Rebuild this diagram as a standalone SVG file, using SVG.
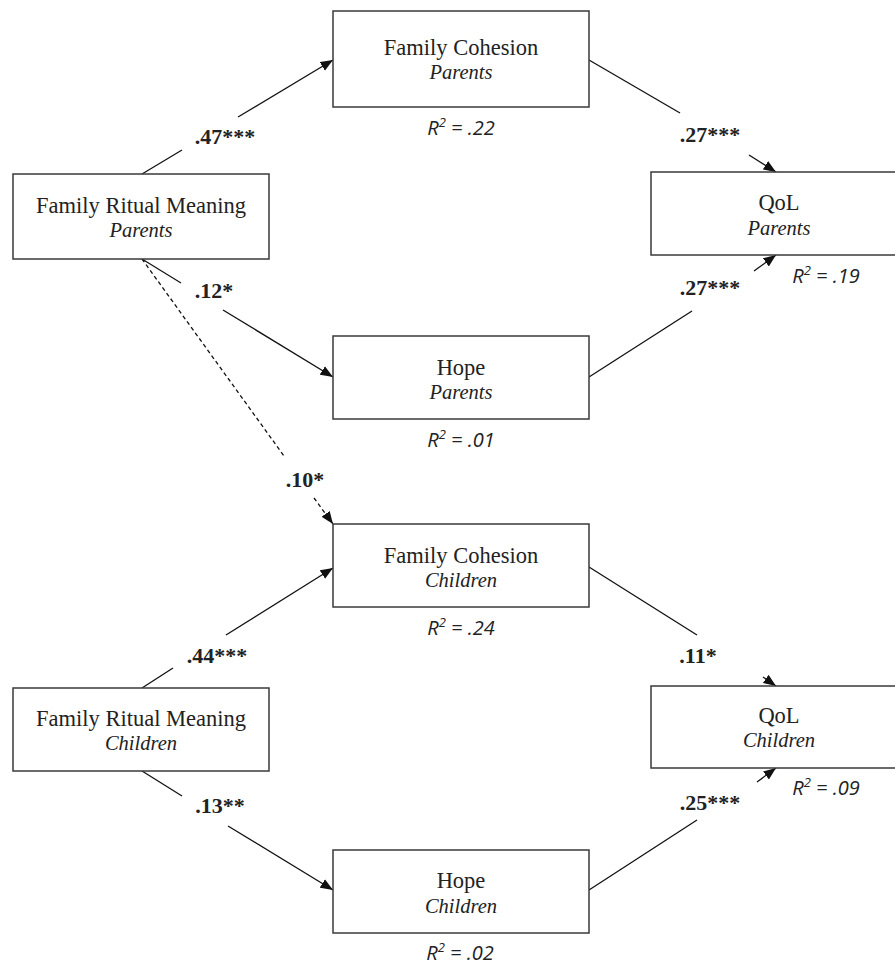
<svg xmlns="http://www.w3.org/2000/svg" width="895" height="965" viewBox="0 0 895 965">
<style>
.box{fill:#fff;stroke:#3a3a3a;stroke-width:1.5}
.t{font-family:"Liberation Serif","Times New Roman",serif;font-size:22.5px;fill:#222;text-anchor:middle}
.s{font-family:"Liberation Serif","Times New Roman",serif;font-size:20.5px;font-style:italic;fill:#222;text-anchor:middle}
.r{font-family:"Open Sans","Liberation Sans",sans-serif;font-size:20px;font-style:italic;fill:#222;text-anchor:middle}
.c{font-family:"Liberation Serif","Times New Roman",serif;font-size:22px;font-weight:bold;fill:#222;text-anchor:middle}
.ln{stroke:#111;stroke-width:1.3;fill:none}
.dash{stroke-dasharray:4 3}
</style>
<defs>
<marker id="ah" markerUnits="userSpaceOnUse" markerWidth="13" markerHeight="11" viewBox="0 0 13 11" refX="12.5" refY="5.5" orient="auto">
<path d="M0,0.5 L12.5,5.5 L0,10.5 z" fill="#111"/>
</marker>
</defs>

<g id="connectors">
<line class="ln" x1="142" y1="174" x2="182" y2="150"/>
<line class="ln" x1="238" y1="117" x2="333" y2="60" marker-end="url(#ah)"/>
<line class="ln" x1="142" y1="259" x2="181" y2="283"/>
<line class="ln" x1="223" y1="310" x2="333" y2="377" marker-end="url(#ah)"/>
<line class="ln dash" x1="142" y1="259" x2="284" y2="456"/>
<line class="ln dash" x1="314" y1="498" x2="333" y2="524" marker-end="url(#ah)"/>
<line class="ln" x1="589" y1="60" x2="680" y2="113"/>
<line class="ln" x1="749" y1="155" x2="776" y2="172" marker-end="url(#ah)"/>
<line class="ln" x1="589" y1="377" x2="692" y2="311"/>
<line class="ln" x1="754" y1="271" x2="776" y2="255" marker-end="url(#ah)"/>
<line class="ln" x1="142" y1="688" x2="173" y2="668"/>
<line class="ln" x1="226" y1="635" x2="333" y2="568" marker-end="url(#ah)"/>
<line class="ln" x1="142" y1="771" x2="182" y2="796"/>
<line class="ln" x1="228" y1="826" x2="333" y2="890" marker-end="url(#ah)"/>
<line class="ln" x1="589" y1="567" x2="697" y2="635"/>
<line class="ln" x1="763" y1="677" x2="776" y2="686" marker-end="url(#ah)"/>
<line class="ln" x1="589" y1="890" x2="697" y2="820"/>
<line class="ln" x1="757" y1="782" x2="776" y2="768" marker-end="url(#ah)"/>
<text class="c" x="225" y="144">.47***</text>
<text class="c" x="214" y="298">.12*</text>
<text class="c" x="305" y="487">.10*</text>
<text class="c" x="710" y="142">.27***</text>
<text class="c" x="710" y="295">.27***</text>
<text class="c" x="217" y="663">.44***</text>
<text class="c" x="220" y="813">.13**</text>
<text class="c" x="698" y="663">.11*</text>
<text class="c" x="710" y="810">.25***</text>
</g>

<g id="frm-parents">
<rect class="box" x="13" y="174" width="256" height="85"/>
<text class="t" x="141" y="213">Family Ritual Meaning</text>
<text class="s" x="141" y="237">Parents</text>
</g>

<g id="fc-parents">
<rect class="box" x="333" y="11" width="256" height="96"/>
<text class="t" x="461" y="55">Family Cohesion</text>
<text class="s" x="461" y="79">Parents</text>
<text class="r" x="461" y="135">R<tspan font-size="13" dy="-8">2</tspan><tspan dy="8"> = .22</tspan></text>
</g>

<g id="hope-parents">
<rect class="box" x="333" y="336" width="256" height="83"/>
<text class="t" x="461" y="375">Hope</text>
<text class="s" x="461" y="399">Parents</text>
<text class="r" x="461" y="447">R<tspan font-size="13" dy="-8">2</tspan><tspan dy="8"> = .01</tspan></text>
</g>

<g id="qol-parents">
<rect class="box" x="651" y="172" width="256" height="83"/>
<text class="t" x="779" y="210">QoL</text>
<text class="s" x="779" y="235">Parents</text>
<text class="r" x="826" y="283">R<tspan font-size="13" dy="-8">2</tspan><tspan dy="8"> = .19</tspan></text>
</g>

<g id="fc-children">
<rect class="box" x="333" y="524" width="256" height="83"/>
<text class="t" x="461" y="563">Family Cohesion</text>
<text class="s" x="461" y="587">Children</text>
<text class="r" x="461" y="635">R<tspan font-size="13" dy="-8">2</tspan><tspan dy="8"> = .24</tspan></text>
</g>

<g id="frm-children">
<rect class="box" x="13" y="688" width="256" height="83"/>
<text class="t" x="141" y="726">Family Ritual Meaning</text>
<text class="s" x="141" y="750">Children</text>
</g>

<g id="qol-children">
<rect class="box" x="651" y="686" width="256" height="82"/>
<text class="t" x="779" y="723">QoL</text>
<text class="s" x="779" y="747">Children</text>
<text class="r" x="826" y="795">R<tspan font-size="13" dy="-8">2</tspan><tspan dy="8"> = .09</tspan></text>
</g>

<g id="hope-children">
<rect class="box" x="333" y="850" width="256" height="83"/>
<text class="t" x="461" y="888">Hope</text>
<text class="s" x="461" y="913">Children</text>
<text class="r" x="460" y="960">R<tspan font-size="13" dy="-8">2</tspan><tspan dy="8"> = .02</tspan></text>
</g>
</svg>
